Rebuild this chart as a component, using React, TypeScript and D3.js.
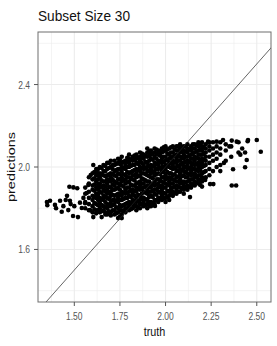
import * as d3 from "d3";

// axis ticks
const xTicks = [1.5, 1.75, 2.0, 2.25, 2.5];
const xTickLabels = ["1.50", "1.75", "2.00", "2.25", "2.50"];
const xMinor = [1.375, 1.625, 1.875, 2.125, 2.375];
const yTicks = [1.6, 2.0, 2.4];
const yTickLabels = ["1.6", "2.0", "2.4"];
const yMinor = [1.4, 1.8, 2.2, 2.6];

// dense band of the cloud: [truth, predictions read down the column]
const coreColumns: [number, number[]][] = [
  [1.56, [1.8, 1.83, 1.87, 1.9]],
  [1.58, [1.79, 1.82, 1.85, 1.88, 1.92, 1.95]],
  [1.6, [1.78, 1.81, 1.84, 1.86, 1.89, 1.91, 1.94, 1.97]],
  [1.62, [1.79, 1.82, 1.85, 1.87, 1.9, 1.93, 1.96, 1.99]],
  [1.64, [1.78, 1.8, 1.83, 1.85, 1.88, 1.9, 1.92, 1.95, 1.97, 2.0]],
  [1.66, [1.79, 1.81, 1.84, 1.86, 1.89, 1.91, 1.93, 1.96, 1.98, 2.01]],
  [1.68, [1.77, 1.8, 1.82, 1.85, 1.87, 1.89, 1.92, 1.94, 1.96, 1.99, 2.02]],
  [1.7, [1.78, 1.81, 1.83, 1.86, 1.88, 1.9, 1.93, 1.95, 1.97, 2.0, 2.03]],
  [1.72, [1.77, 1.79, 1.82, 1.84, 1.86, 1.89, 1.91, 1.93, 1.96, 1.98, 2.01, 2.03]],
  [1.74, [1.78, 1.8, 1.83, 1.85, 1.87, 1.9, 1.92, 1.94, 1.97, 1.99, 2.02, 2.04]],
  [1.76, [1.77, 1.79, 1.81, 1.84, 1.86, 1.88, 1.91, 1.93, 1.95, 1.98, 2.0, 2.02, 2.05]],
  [1.78, [1.78, 1.8, 1.82, 1.85, 1.87, 1.89, 1.92, 1.94, 1.96, 1.99, 2.01, 2.03]],
  [1.8, [1.79, 1.81, 1.83, 1.86, 1.88, 1.9, 1.93, 1.95, 1.97, 2.0, 2.02, 2.04, 2.06]],
  [1.82, [1.8, 1.82, 1.84, 1.87, 1.89, 1.91, 1.94, 1.96, 1.98, 2.01, 2.03, 2.05]],
  [1.84, [1.79, 1.81, 1.83, 1.85, 1.88, 1.9, 1.92, 1.95, 1.97, 1.99, 2.02, 2.04, 2.06]],
  [1.86, [1.8, 1.82, 1.84, 1.86, 1.89, 1.91, 1.93, 1.96, 1.98, 2.0, 2.03, 2.05, 2.07]],
  [1.88, [1.81, 1.83, 1.85, 1.88, 1.9, 1.92, 1.94, 1.97, 1.99, 2.01, 2.04, 2.06]],
  [1.9, [1.8, 1.82, 1.84, 1.87, 1.89, 1.91, 1.93, 1.96, 1.98, 2.0, 2.02, 2.05, 2.07, 2.09]],
  [1.92, [1.81, 1.83, 1.86, 1.88, 1.9, 1.92, 1.95, 1.97, 1.99, 2.01, 2.04, 2.06, 2.08]],
  [1.94, [1.82, 1.84, 1.87, 1.89, 1.91, 1.93, 1.96, 1.98, 2.0, 2.02, 2.05, 2.07, 2.09]],
  [1.96, [1.83, 1.85, 1.88, 1.9, 1.92, 1.94, 1.97, 1.99, 2.01, 2.03, 2.06, 2.08]],
  [1.98, [1.84, 1.86, 1.89, 1.91, 1.93, 1.95, 1.98, 2.0, 2.02, 2.04, 2.07, 2.09]],
  [2.0, [1.83, 1.85, 1.87, 1.9, 1.92, 1.94, 1.96, 1.99, 2.01, 2.03, 2.05, 2.08, 2.1]],
  [2.02, [1.84, 1.86, 1.88, 1.91, 1.93, 1.95, 1.97, 2.0, 2.02, 2.04, 2.06, 2.09]],
  [2.04, [1.86, 1.88, 1.9, 1.92, 1.94, 1.96, 1.99, 2.01, 2.03, 2.05, 2.07, 2.1]],
  [2.06, [1.87, 1.89, 1.91, 1.93, 1.95, 1.98, 2.0, 2.02, 2.04, 2.06, 2.08, 2.1]],
  [2.08, [1.88, 1.9, 1.92, 1.94, 1.97, 1.99, 2.01, 2.03, 2.05, 2.07, 2.09, 2.11]],
  [2.1, [1.87, 1.89, 1.91, 1.93, 1.96, 1.98, 2.0, 2.02, 2.04, 2.06, 2.08, 2.1]],
  [2.12, [1.89, 1.91, 1.93, 1.95, 1.97, 1.99, 2.01, 2.03, 2.05, 2.07, 2.09, 2.11]],
  [2.14, [1.9, 1.92, 1.94, 1.96, 1.98, 2.0, 2.02, 2.04, 2.06, 2.08, 2.1]],
  [2.16, [1.91, 1.93, 1.95, 1.97, 1.99, 2.01, 2.03, 2.05, 2.07, 2.09, 2.11]],
  [2.18, [1.92, 1.94, 1.96, 1.98, 2.0, 2.02, 2.04, 2.06, 2.08, 2.1, 2.12]],
  [2.2, [1.93, 1.95, 1.97, 2.0, 2.02, 2.04, 2.06, 2.08, 2.1, 2.12]],
  [2.22, [1.95, 1.98, 2.01, 2.03, 2.05, 2.07, 2.09, 2.11]],
  [2.24, [1.96, 1.99, 2.02, 2.05, 2.08, 2.1, 2.12]],
  [2.26, [1.98, 2.03, 2.06, 2.09, 2.12]],
  [2.28, [2.0, 2.04, 2.07, 2.1]],
  [2.3, [2.01, 2.06, 2.09, 2.12]],
  [2.33, [2.03, 2.08, 2.11]],
  [2.36, [2.05, 2.1]],
  [2.4, [2.07, 2.12]],
];

// points lying between the columns above
const fillColumns: [number, number[]][] = [
  [1.61, [1.795, 1.825, 1.855, 1.885, 1.915, 1.945, 1.975]],
  [1.63, [1.79, 1.815, 1.84, 1.865, 1.89, 1.915, 1.94, 1.965, 1.99]],
  [1.65, [1.785, 1.815, 1.845, 1.875, 1.905, 1.935, 1.965, 1.995]],
  [1.67, [1.78, 1.805, 1.83, 1.855, 1.88, 1.905, 1.93, 1.955, 1.98, 2.005]],
  [1.69, [1.785, 1.815, 1.845, 1.875, 1.905, 1.935, 1.965, 1.995, 2.02]],
  [1.71, [1.79, 1.815, 1.84, 1.865, 1.89, 1.915, 1.94, 1.965, 1.99, 2.01]],
  [1.73, [1.775, 1.805, 1.835, 1.865, 1.895, 1.925, 1.955, 1.985, 2.015]],
  [1.75, [1.79, 1.815, 1.84, 1.865, 1.89, 1.915, 1.94, 1.965, 1.99, 2.015, 2.035]],
  [1.77, [1.785, 1.815, 1.845, 1.875, 1.905, 1.935, 1.965, 1.995, 2.025]],
  [1.79, [1.8, 1.825, 1.85, 1.875, 1.9, 1.925, 1.95, 1.975, 2.0, 2.025, 2.045]],
  [1.81, [1.795, 1.825, 1.855, 1.885, 1.915, 1.945, 1.975, 2.005, 2.035]],
  [1.83, [1.81, 1.835, 1.86, 1.885, 1.91, 1.935, 1.96, 1.985, 2.01, 2.035, 2.055]],
  [1.85, [1.805, 1.835, 1.865, 1.895, 1.925, 1.955, 1.985, 2.015, 2.045]],
  [1.87, [1.82, 1.845, 1.87, 1.895, 1.92, 1.945, 1.97, 1.995, 2.02, 2.045, 2.065]],
  [1.89, [1.815, 1.845, 1.875, 1.905, 1.935, 1.965, 1.995, 2.025, 2.055]],
  [1.91, [1.83, 1.855, 1.88, 1.905, 1.93, 1.955, 1.98, 2.005, 2.03, 2.055, 2.075]],
  [1.93, [1.825, 1.855, 1.885, 1.915, 1.945, 1.975, 2.005, 2.035, 2.065]],
  [1.95, [1.84, 1.865, 1.89, 1.915, 1.94, 1.965, 1.99, 2.015, 2.04, 2.065, 2.085]],
  [1.97, [1.845, 1.875, 1.905, 1.935, 1.965, 1.995, 2.025, 2.055, 2.075]],
  [1.99, [1.85, 1.875, 1.9, 1.925, 1.95, 1.975, 2.0, 2.025, 2.05, 2.075, 2.095]],
  [2.01, [1.855, 1.885, 1.915, 1.945, 1.975, 2.005, 2.035, 2.065, 2.085]],
  [2.03, [1.87, 1.895, 1.92, 1.945, 1.97, 1.995, 2.02, 2.045, 2.07, 2.095]],
  [2.05, [1.875, 1.905, 1.935, 1.965, 1.995, 2.025, 2.055, 2.085]],
  [2.07, [1.88, 1.905, 1.93, 1.955, 1.98, 2.005, 2.03, 2.055, 2.08, 2.1]],
  [2.09, [1.895, 1.925, 1.955, 1.985, 2.015, 2.045, 2.075, 2.095]],
  [2.11, [1.9, 1.925, 1.95, 1.975, 2.0, 2.025, 2.05, 2.075, 2.1]],
  [2.13, [1.905, 1.935, 1.965, 1.995, 2.025, 2.055, 2.085]],
  [2.15, [1.915, 1.94, 1.965, 1.99, 2.015, 2.04, 2.065, 2.09, 2.11]],
  [2.17, [1.925, 1.955, 1.985, 2.015, 2.045, 2.075, 2.105]],
  [2.19, [1.935, 1.96, 1.985, 2.01, 2.035, 2.06, 2.085, 2.11]],
  [2.21, [1.945, 1.975, 2.005, 2.035, 2.065, 2.095]],
];

// loose points around the band
const leftTail: [number, number][] = [
  [1.35, 1.83], [1.352, 1.815], [1.367, 1.836], [1.394, 1.816], [1.4, 1.8],
  [1.422, 1.836], [1.431, 1.783], [1.44, 1.81], [1.453, 1.84], [1.46, 1.86],
  [1.467, 1.791], [1.476, 1.836], [1.473, 1.904], [1.48, 1.82], [1.495, 1.901],
  [1.516, 1.897], [1.493, 1.762], [1.5, 1.81], [1.52, 1.757], [1.531, 1.827],
  [1.541, 1.801], [1.55, 1.85], [1.559, 1.824], [1.568, 1.874], [1.577, 1.913],
  [1.586, 1.791], [1.59, 1.961], [1.604, 2.01], [1.623, 1.977], [1.604, 1.757],
  [1.62, 1.775], [1.65, 1.757], [1.67, 1.77], [1.7, 1.765], [1.74, 1.752],
  [1.75, 1.759], [1.76, 1.752], [1.822, 1.816], [1.877, 1.816], [1.915, 1.811],
  [1.942, 1.811],
];

const rightTail: [number, number][] = [
  [2.5, 2.131], [2.522, 2.074], [2.452, 2.131], [2.45, 2.125], [2.436, 2.07],
  [2.445, 2.034], [2.436, 1.999], [2.37, 1.989], [2.363, 1.91], [2.387, 1.91],
  [2.244, 1.917], [2.262, 1.917], [2.217, 1.937], [2.217, 1.945], [2.19, 1.913],
  [2.134, 1.854], [2.39, 2.123], [2.363, 2.128], [2.315, 2.131], [2.28, 2.123],
  [2.233, 2.123], [2.42, 2.09], [2.41, 2.06], [2.35, 2.1], [2.3, 1.98],
  [2.32, 2.02], [2.17, 1.95], [2.2, 1.905],
];

const W = 277;
const H = 346;
const left = 38;
const right = 271;
const top = 32;
const bottom = 302;

const font = "'Liberation Sans', Arial, sans-serif";

export default function App() {
  const x = d3.scaleLinear().domain([1.301, 2.578]).range([left, right]);
  const y = d3.scaleLinear().domain([1.345, 2.655]).range([bottom, top]);

  const fromColumns = (cols: [number, number[]][]) =>
    cols.flatMap(([t, ps]) => ps.map((p) => [t, p] as [number, number]));

  const points: [number, number][] = [
    ...fromColumns(coreColumns),
    ...fromColumns(fillColumns),
    ...leftTail,
    ...rightTail,
  ];

  const diag = d3.line<number>((d) => x(d), (d) => y(d))([1.3, 2.7]);

  return (
    <svg
      width={W}
      height={H}
      style={{ position: "absolute", left: 0, top: 0, background: "white" }}
      fontFamily={font}
    >
      <defs>
        <clipPath id="panel">
          <rect x={left} y={top} width={right - left} height={bottom - top} />
        </clipPath>
      </defs>

      {/* grid */}
      <g stroke="#ececec">
        {xMinor.map((v) => (
          <line key={"xm" + v} x1={x(v)} x2={x(v)} y1={top} y2={bottom} strokeWidth={0.6} />
        ))}
        {yMinor.map((v) => (
          <line key={"ym" + v} x1={left} x2={right} y1={y(v)} y2={y(v)} strokeWidth={0.6} />
        ))}
        {xTicks.map((v) => (
          <line key={"xg" + v} x1={x(v)} x2={x(v)} y1={top} y2={bottom} strokeWidth={1.1} />
        ))}
        {yTicks.map((v) => (
          <line key={"yg" + v} x1={left} x2={right} y1={y(v)} y2={y(v)} strokeWidth={1.1} />
        ))}
      </g>

      <g clipPath="url(#panel)">
        <g fill="black">
          {points.map(([t, p], i) => (
            <circle key={i} cx={x(t)} cy={y(p)} r={2.3} />
          ))}
        </g>
        <path d={diag ?? ""} fill="none" stroke="#222" strokeWidth={0.7} />
      </g>

      {/* border */}
      <rect
        x={left}
        y={top}
        width={right - left}
        height={bottom - top}
        fill="none"
        stroke="#6e6e6e"
        strokeWidth={1}
      />

      {/* y axis */}
      {yTicks.map((v, i) => (
        <g key={"yt" + v}>
          <line x1={left - 4} x2={left} y1={y(v)} y2={y(v)} stroke="#555" />
          <text
            transform={`translate(${left - 8},${y(v) + 4}) scale(0.74,1)`}
            textAnchor="end"
            fontSize={11.5}
            fill="#555"
          >
            {yTickLabels[i]}
          </text>
        </g>
      ))}

      {/* x axis */}
      {xTicks.map((v, i) => (
        <g key={"xt" + v}>
          <line x1={x(v)} x2={x(v)} y1={bottom} y2={bottom + 4} stroke="#555" />
          <text
            transform={`translate(${x(v)},${bottom + 18}) scale(0.74,1)`}
            textAnchor="middle"
            fontSize={11.5}
            fill="#555"
          >
            {xTickLabels[i]}
          </text>
        </g>
      ))}

      <text
        transform={`translate(${(left + right) / 2},336) scale(0.8,1)`}
        textAnchor="middle"
        fontSize={13.5}
        fill="#111"
      >
        truth
      </text>
      <text
        transform={`translate(15,${(top + bottom) / 2}) scale(0.72,1) rotate(-90)`}
        textAnchor="middle"
        fontSize={14.5}
        fill="#111"
      >
        predictions
      </text>

      <text x={left} y={21} fontSize={15} fill="#111" textLength={92} lengthAdjust="spacingAndGlyphs">
        Subset Size 30
      </text>
    </svg>
  );
}
